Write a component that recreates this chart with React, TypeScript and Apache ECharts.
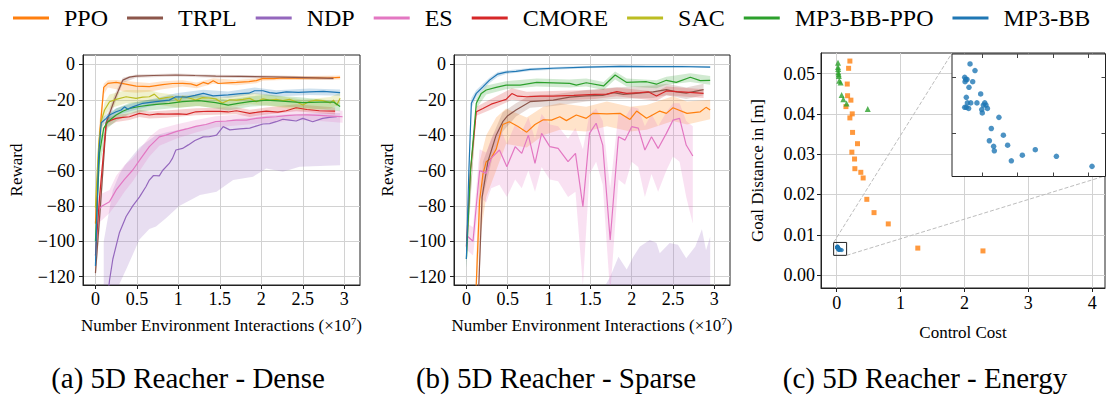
import React, { useEffect, useRef } from 'react';
import * as echarts from 'echarts';

const FONT = '"Liberation Serif", "Times New Roman", Times, serif';

const methods = ['PPO', 'TRPL', 'NDP', 'ES', 'CMORE', 'SAC', 'MP3-BB-PPO', 'MP3-BB'];
const methodColors = ['#ff7f0e', '#8c564b', '#9467bd', '#e377c2', '#d62728', '#bcbd22', '#2ca02c', '#1f77b4'];

const rewardTicks = [-120, -100, -80, -60, -40, -20, 0];
const interactionTicks = [0, 0.5, 1, 1.5, 2, 2.5, 3];
const costTicks = [0, 1, 2, 3, 4];
const distanceTicks = [0, 0.01, 0.02, 0.03, 0.04, 0.05];
const insetCostTicks = [0.02, 0.04, 0.06, 0.08];
const insetDistanceTicks = [0.0065, 0.007];

const captions = ['(a) 5D Reacher - Dense', '(b) 5D Reacher - Sparse', '(c) 5D Reacher - Energy'];

// ---------- Dense: mean curves [x (1e7), reward] ----------
const densePPO = [[0,-90],[0.05,-40],[0.1,-13],[0.15,-10.7],[0.25,-10.2],[0.35,-11],[0.49,-12.3],[0.65,-12.6],[0.81,-11.4],[0.93,-10.8],[1.05,-10.7],[1.15,-11],[1.22,-12],[1.3,-10.2],[1.36,-11],[1.42,-9.2],[1.48,-10.8],[1.6,-10.4],[1.7,-10.2],[1.85,-9.8],[1.94,-9.2],[2.02,-7.9],[2.15,-8],[2.26,-7.6],[2.45,-7.8],[2.6,-7.6],[2.8,-7.7],[2.95,-7.4]];
const denseTRPL = [[0,-118],[0.06,-80],[0.13,-33],[0.23,-20],[0.33,-8.9],[0.41,-7.2],[0.49,-6.6],[0.7,-6.3],[0.97,-6],[1.2,-6.3],[1.45,-6.6],[1.75,-6.8],[2.06,-7],[2.4,-7.3],[2.65,-7.6],[2.87,-7.9]];
const denseNDP = [[0.1,-150],[0.17,-122],[0.21,-110],[0.29,-95],[0.37,-86],[0.45,-80],[0.53,-75],[0.61,-69],[0.65,-65.4],[0.7,-62.8],[0.77,-63],[0.81,-60],[0.89,-56],[0.93,-53],[0.97,-48.4],[1.05,-47.5],[1.12,-45.5],[1.2,-43],[1.3,-41],[1.37,-40.9],[1.46,-40],[1.54,-35.2],[1.62,-37],[1.74,-36.5],[1.86,-36],[2.02,-33.7],[2.1,-33.5],[2.18,-32.4],[2.26,-31],[2.34,-31.5],[2.42,-32],[2.5,-30.5],[2.62,-32.4],[2.74,-30.5],[2.82,-30],[2.91,-29.6]];
const denseES = [[0.02,-83],[0.08,-80],[0.17,-77.6],[0.25,-71],[0.35,-65],[0.45,-59.7],[0.55,-53],[0.65,-46.5],[0.77,-41],[0.85,-40],[0.97,-38],[1.1,-36.5],[1.21,-35],[1.33,-34],[1.45,-32.4],[1.58,-32],[1.7,-31.5],[1.82,-31.5],[1.94,-30.5],[2.06,-30],[2.18,-29.6],[2.3,-29],[2.42,-28.6],[2.55,-28.5],[2.7,-28.8],[2.85,-29.2],[2.98,-29.6]];
const denseCMORE = [[0,-108],[0.05,-75],[0.13,-33],[0.19,-31.5],[0.25,-30.5],[0.33,-30],[0.41,-29.6],[0.53,-27.7],[0.65,-28.6],[0.75,-28],[0.85,-28.1],[1.0,-28],[1.1,-28.3],[1.21,-26.8],[1.35,-26.5],[1.5,-26.6],[1.6,-26.9],[1.7,-26.2],[1.86,-27.7],[1.96,-27],[2.06,-26.4],[2.2,-27],[2.3,-26.2],[2.42,-24.5],[2.55,-25.5],[2.7,-26.2],[2.89,-26.4]];
const denseSAC = [[0,-81],[0.04,-45],[0.07,-32],[0.11,-25.8],[0.17,-21.1],[0.25,-19.8],[0.37,-18.3],[0.49,-19.2],[0.57,-18.5],[0.65,-18.3],[0.71,-16.8],[0.77,-19.5],[0.85,-18.8],[0.93,-18.3],[1.01,-21.1],[1.05,-18],[1.13,-19],[1.21,-20.2],[1.29,-18.8],[1.37,-19],[1.45,-19.5],[1.53,-21.8],[1.62,-20],[1.7,-20.2],[1.78,-19.8],[1.86,-19.2],[1.94,-21.1],[2.02,-19.5],[2.1,-20.2],[2.18,-19.8],[2.26,-20.5],[2.34,-19.8],[2.42,-21.1],[2.5,-23],[2.58,-21],[2.66,-20.2],[2.74,-20.5],[2.83,-21.8],[2.87,-20.2],[2.91,-23],[2.95,-19.2]];
const denseMP3BBPPO = [[0,-100],[0.05,-50],[0.1,-36],[0.15,-32.4],[0.25,-28.6],[0.33,-26.5],[0.41,-24.9],[0.53,-23.8],[0.65,-23],[0.77,-22.5],[0.89,-22],[1.05,-21.1],[1.25,-20.5],[1.45,-21.6],[1.6,-23],[1.72,-22],[1.86,-21.1],[2.06,-20.2],[2.25,-20.8],[2.5,-21.6],[2.7,-21.3],[2.87,-21.3],[2.95,-23.8]];
const denseMP3BB = [[0,-114],[0.04,-50],[0.07,-33],[0.13,-30.5],[0.17,-28.6],[0.25,-26.8],[0.31,-25.8],[0.35,-24],[0.39,-25.4],[0.45,-24],[0.57,-22],[0.73,-21.1],[0.89,-20.2],[0.97,-18.3],[1.1,-18.5],[1.2,-17.5],[1.3,-16.4],[1.42,-17.8],[1.6,-17.2],[1.75,-16.5],[1.85,-16.3],[1.92,-14.9],[2.02,-14.9],[2.1,-16],[2.18,-16.4],[2.3,-15.5],[2.45,-15.8],[2.58,-15.5],[2.75,-15.3],[2.95,-16]];

// ---------- Dense: shaded bands [x, lower, upper] ----------
const denseBandPPO = [[0,-105,-80],[0.05,-50,-32],[0.1,-17,-11],[0.15,-13,-9],[0.25,-14,-8.8],[0.35,-15.5,-9.3],[0.49,-16,-10],[0.65,-15.5,-10.5],[0.81,-14,-9.5],[1.05,-12.5,-9],[1.22,-13.5,-10.3],[1.42,-11,-7.8],[1.7,-11.8,-8.8],[1.94,-10.7,-8],[2.02,-9.3,-6.7],[2.26,-8.8,-6.5],[2.6,-8.8,-6.5],[2.95,-8.5,-6.3]];
const denseBandTRPL = [[0,-122,-114],[0.06,-88,-72],[0.13,-36,-30],[0.23,-23,-17],[0.33,-10.5,-7.5],[0.49,-7.5,-5.7],[0.97,-6.8,-5.2],[1.45,-7.5,-5.8],[2.06,-7.9,-6.2],[2.87,-8.8,-7]];
const denseBandNDP = [[0.1,-160,-100],[0.21,-140,-71],[0.29,-124,-62],[0.37,-116,-56],[0.53,-99,-47],[0.65,-93,-42.8],[0.73,-91.7,-40],[0.85,-87,-38.5],[1.01,-80,-37],[1.26,-73.8,-34.3],[1.46,-72,-33],[1.66,-65.4,-31],[1.9,-63.5,-30],[2.06,-58.8,-29],[2.26,-60.7,-28.5],[2.46,-57.8,-28],[2.7,-57.5,-27.5],[2.95,-57,-27.5]];
const denseBandES = [[0.02,-90,-76],[0.08,-88,-73],[0.17,-84,-71],[0.25,-79,-63],[0.35,-72,-57],[0.45,-66,-53],[0.55,-59,-47],[0.65,-52,-41],[0.77,-46,-36.5],[0.85,-44.5,-35.5],[0.97,-42,-34],[1.21,-38.5,-31.5],[1.45,-35.5,-29.3],[1.7,-34.5,-28.5],[1.94,-33.5,-27.5],[2.18,-32.5,-26.7],[2.42,-31.5,-25.7],[2.7,-32,-25.8],[2.98,-33,-26.2]];
const denseBandCMORE = [[0,-112,-104],[0.05,-80,-70],[0.13,-35.5,-30.5],[0.25,-32.5,-28.5],[0.41,-31.5,-27.7],[0.53,-29.8,-25.6],[0.65,-30.6,-26.6],[0.85,-30.1,-26.1],[1.21,-28.8,-24.8],[1.7,-28.2,-24.2],[1.86,-29.7,-25.7],[2.06,-28.4,-24.4],[2.42,-26.5,-22.5],[2.89,-28.4,-24.4]];
const denseBandSAC = [[0,-90,-72],[0.04,-52,-38],[0.11,-30,-21.5],[0.17,-25,-17],[0.37,-22,-14.5],[0.65,-22,-14.5],[0.77,-23,-16],[1.01,-24.5,-17.5],[1.21,-23.5,-17],[1.53,-25,-18.5],[1.86,-22.5,-16],[2.1,-23.5,-17],[2.5,-26,-20],[2.83,-25,-18.5],[2.95,-22.5,-16]];
const denseBandMP3BBPPO = [[0,-106,-94],[0.05,-57,-43],[0.15,-36,-29],[0.25,-32,-25],[0.41,-28,-21.8],[0.65,-26,-20],[0.89,-25,-19],[1.25,-23.5,-17.5],[1.6,-26,-20],[1.86,-24,-18.2],[2.06,-23.2,-17.2],[2.5,-24.5,-18.7],[2.95,-26.5,-21]];
const denseBandMP3BB = [[0,-118,-110],[0.04,-54,-46],[0.07,-35.5,-30.5],[0.13,-32.5,-28.5],[0.25,-28.8,-24.8],[0.45,-26,-22],[0.73,-23,-19.2],[0.97,-20.3,-16.3],[1.3,-18.4,-14.4],[1.6,-19,-15.4],[1.92,-16.8,-13],[2.18,-18.2,-14.6],[2.58,-17.3,-13.7],[2.95,-17.8,-14.2]];

// ---------- Sparse: mean curves ----------
const sparsePPO = [[0.11,-135],[0.14,-100],[0.16,-77],[0.2,-62],[0.24,-55],[0.3,-53],[0.36,-48],[0.44,-34],[0.52,-32.4],[0.62,-35],[0.73,-38.3],[0.83,-34],[0.93,-31.3],[1.03,-31.5],[1.13,-29.6],[1.21,-31.8],[1.33,-28.6],[1.45,-30.5],[1.53,-27.7],[1.7,-28],[1.86,-27.7],[1.98,-31.1],[2.06,-26.4],[2.18,-30.5],[2.34,-26.4],[2.42,-27.7],[2.5,-24.5],[2.67,-27.7],[2.83,-26.8],[2.9,-24.3],[2.95,-25.8]];
const sparseTRPL = [[0.12,-140],[0.15,-125],[0.19,-75],[0.26,-55],[0.32,-46],[0.36,-40],[0.44,-32.4],[0.5,-29],[0.6,-25.8],[0.77,-21.1],[1.05,-20.2],[1.25,-18.5],[1.45,-17.8],[1.65,-17.5],[1.78,-16],[1.9,-17],[2.02,-16.5],[2.15,-16],[2.26,-15.5],[2.42,-14.3],[2.54,-15.5],[2.66,-16.2],[2.87,-14.3]];
const sparseNDP = [[0.2,-150],[1.0,-146],[1.8,-138],[2.4,-134],[2.95,-132]];
const sparseES = [[0.01,-97],[0.08,-100],[0.16,-60],[0.24,-61.6],[0.3,-53],[0.4,-48.4],[0.49,-57.8],[0.59,-46.5],[0.67,-50.3],[0.75,-40],[0.83,-56],[0.91,-39],[1.01,-46.5],[1.11,-47.5],[1.23,-55],[1.32,-50.3],[1.41,-80.4],[1.49,-39],[1.57,-33.3],[1.65,-45.6],[1.74,-99.3],[1.84,-40.9],[1.92,-42.8],[2.0,-35.2],[2.08,-36],[2.16,-48.4],[2.24,-40.9],[2.32,-47.5],[2.42,-39],[2.5,-31.5],[2.58,-30.5],[2.66,-45.6],[2.74,-51.8]];
const sparseCMORE = [[0,-103],[0.05,-60],[0.12,-26.8],[0.2,-24.9],[0.3,-22.5],[0.4,-21],[0.48,-19.8],[0.55,-16.5],[0.62,-18],[0.73,-18.3],[0.9,-18],[1.05,-17.9],[1.3,-17.5],[1.55,-17],[1.7,-16.8],[1.82,-15.4],[1.94,-16.4],[2.1,-16],[2.2,-15.5],[2.3,-17.9],[2.42,-15],[2.55,-15.4],[2.7,-15.8],[2.87,-16.4]];
const sparseMP3BBPPO = [[0,-110],[0.05,-60],[0.12,-22],[0.18,-16.4],[0.24,-14.5],[0.36,-13],[0.48,-11.7],[0.65,-11.7],[0.85,-10.2],[1.05,-10.4],[1.25,-10.7],[1.33,-11.7],[1.45,-10.4],[1.66,-12.2],[1.8,-6],[1.94,-10.2],[2.18,-9.8],[2.3,-11.2],[2.42,-9],[2.54,-10.2],[2.71,-7.3],[2.83,-9.2],[2.95,-9]];
const sparseMP3BB = [[0,-110],[0.03,-60],[0.06,-22],[0.12,-16.4],[0.2,-12.7],[0.28,-8.9],[0.38,-5.5],[0.48,-4.4],[0.6,-4],[0.77,-2.8],[1.05,-2.2],[1.45,-1.5],[1.86,-1.1],[2.2,-1.3],[2.6,-1.2],[2.95,-1.5]];

// ---------- Sparse: shaded bands ----------
const sparseBandPPO = [[0.12,-130,-110],[0.16,-100,-55],[0.24,-75,-40],[0.36,-60,-30],[0.48,-45,-25],[0.73,-47,-30],[0.93,-40,-24],[1.13,-37,-22],[1.45,-38,-24],[1.7,-35,-21],[1.98,-38,-24],[2.18,-37,-23],[2.5,-32,-18],[2.67,-34,-21],[2.95,-31,-20]];
const sparseBandTRPL = [[0.15,-130,-115],[0.2,-75,-55],[0.32,-52,-40],[0.44,-38,-27],[0.6,-29.5,-22],[0.77,-24.5,-17.5],[1.05,-23.5,-17],[1.45,-21,-14.5],[1.78,-19.5,-13],[2.26,-19,-12],[2.42,-17.5,-11],[2.66,-19.5,-13],[2.87,-17.5,-11]];
const sparseBandNDP = [[1.68,-140,-125],[1.74,-140,-120],[1.84,-140,-108.7],[1.94,-140,-116],[2.02,-140,-108.7],[2.1,-140,-103],[2.22,-140,-99.3],[2.3,-140,-101],[2.34,-140,-106.8],[2.46,-140,-101],[2.56,-140,-102],[2.66,-140,-109.6],[2.77,-140,-103],[2.85,-140,-93.2],[2.9,-140,-105],[2.95,-140,-97.4]];
const sparseBandES = [[0.01,-105,-90],[0.08,-108,-92],[0.16,-75,-48],[0.24,-78,-50],[0.3,-70,-42],[0.4,-68,-35],[0.49,-75,-45],[0.59,-65,-34],[0.67,-70,-38],[0.75,-60,-30],[0.83,-72,-42],[0.91,-58,-28],[1.01,-65,-34],[1.11,-66,-35],[1.23,-75,-42],[1.32,-72,-36],[1.41,-125,-48],[1.49,-62,-28],[1.57,-55,-25],[1.65,-68,-32],[1.74,-130,-70],[1.84,-65,-28],[1.92,-68,-30],[2.0,-55,-24],[2.08,-58,-25],[2.16,-75,-35],[2.24,-62,-28],[2.32,-72,-35],[2.42,-60,-27],[2.5,-52,-22],[2.58,-55,-22],[2.66,-75,-32],[2.74,-90,-35]];
const sparseBandCMORE = [[0,-108,-98],[0.12,-29,-24],[0.3,-25.5,-19.5],[0.55,-20,-13.5],[0.73,-21,-15.5],[1.05,-20.5,-15],[1.55,-19.5,-14.5],[1.82,-18,-13],[2.3,-20.5,-15.5],[2.42,-17.5,-12.5],[2.87,-19,-14]];
const sparseBandMP3BBPPO = [[0,-115,-105],[0.12,-25,-19],[0.24,-17,-12],[0.48,-14,-9.5],[0.85,-12.5,-8],[1.25,-13,-8.5],[1.45,-12.5,-8],[1.66,-14.5,-10],[1.8,-8.5,-4],[1.94,-12.5,-8],[2.3,-13.5,-9],[2.42,-11.5,-7],[2.71,-10,-5],[2.95,-11.5,-6.5]];
const sparseBandMP3BB = [[0,-115,-105],[0.06,-25,-19],[0.12,-18.5,-14.5],[0.2,-14.5,-11],[0.28,-10.5,-7.5],[0.38,-7,-4.3],[0.48,-5.5,-3.4],[0.77,-3.7,-2],[1.05,-3,-1.5],[1.45,-2.2,-0.9],[1.86,-1.8,-0.5],[2.6,-1.8,-0.6],[2.95,-2.1,-0.9]];

// ---------- Energy: [control cost, goal distance] ----------
const energyPPO = [[0.207,0.0531],[0.187,0.0513],[0.166,0.0474],[0.171,0.0445],[0.223,0.0434],[0.145,0.0418],[0.244,0.04],[0.207,0.039],[0.249,0.0354],[0.326,0.0326],[0.238,0.0305],[0.28,0.0288],[0.285,0.0264],[0.378,0.0255],[0.415,0.0241],[0.472,0.0188],[0.585,0.0155],[0.808,0.0127],[1.27,0.0067],[2.29,0.006]];
const energyMP3BBPPO = [[0.021,0.0527],[0.021,0.0516],[0.024,0.0511],[0.026,0.0503],[0.031,0.0498],[0.034,0.0494],[0.041,0.0482],[0.062,0.0478],[0.078,0.0447],[0.104,0.0436],[0.155,0.0426],[0.487,0.0412]];
const energyMP3BB = [[0.0132,0.00712],[0.016,0.00706],[0.0102,0.007],[0.0108,0.00698],[0.0115,0.00698],[0.0104,0.00696],[0.0147,0.00696],[0.0126,0.00691],[0.0192,0.00685],[0.0111,0.00682],[0.0117,0.00677],[0.0136,0.00677],[0.0171,0.00677],[0.0215,0.00677],[0.0207,0.00675],[0.0222,0.00675],[0.0102,0.00673],[0.0111,0.00673],[0.0124,0.00672],[0.023,0.00672],[0.0198,0.00671],[0.0201,0.00668],[0.0295,0.00664],[0.0252,0.00654],[0.032,0.00648],[0.0241,0.00643],[0.0344,0.00639],[0.0265,0.00638],[0.0269,0.00634],[0.05,0.00635],[0.0427,0.0063],[0.0365,0.00625],[0.0619,0.00629],[0.082,0.0062]];
const zoomBox = [[-0.047, 0.0049], [0.156, 0.0081]];
const insetRangeX = [0.00303, 0.0896];
const insetRangeY = [0.006109, 0.007209];
// main-axis data coordinates of the inset's top-left and bottom-right corners
const insetCornersInMain = [[1.806, 0.0551], [4.2, 0.0246]];

const denseMeans = [densePPO, denseTRPL, denseNDP, denseES, denseCMORE, denseSAC, denseMP3BBPPO, denseMP3BB];
const denseBands = [denseBandPPO, denseBandTRPL, denseBandNDP, denseBandES, denseBandCMORE, denseBandSAC, denseBandMP3BBPPO, denseBandMP3BB];
const sparseMeans = [sparsePPO, sparseTRPL, sparseNDP, sparseES, sparseCMORE, null, sparseMP3BBPPO, sparseMP3BB];
const sparseBands = [sparseBandPPO, sparseBandTRPL, sparseBandNDP, sparseBandES, sparseBandCMORE, null, sparseBandMP3BBPPO, sparseBandMP3BB];

const fmtReward = (v: number) => (v < 0 ? '\u2212' + Math.abs(v) : String(v));
const fmtPlain = (v: number) => String(v);
const fmtDist = (v: number) => v.toFixed(2);

function mainAxis(gridIndex: number, min: number, max: number, ticks: number[], fmt: any, margin: number, name: any, nameGap: number, nameRich?: boolean) {
  const ax: any = {
    type: 'value', gridIndex, min, max,
    axisLine: { show: true, onZero: false, lineStyle: { color: '#222', width: 1 } },
    axisTick: { show: true, customValues: ticks, length: 4, lineStyle: { color: '#222', width: 1 } },
    axisLabel: { show: true, customValues: ticks, formatter: fmt, color: '#000', fontSize: 18, fontFamily: FONT, margin },
    splitLine: { show: true, lineStyle: { color: '#d2d2d2', width: 1 } },
    name, nameLocation: 'middle', nameGap,
    nameTextStyle: { color: '#000', fontSize: 17, fontFamily: FONT },
  };
  if (nameRich) {
    ax.nameTextStyle.rich = {
      a: { color: '#000', fontSize: 17, fontFamily: FONT, lineHeight: 20 },
      s: { color: '#000', fontSize: 11, fontFamily: FONT, lineHeight: 12, verticalAlign: 'top' },
    };
  }
  return ax;
}

function insetAxis(position: string, min: number, max: number, ticks: number[]) {
  return {
    type: 'value', gridIndex: 3, position, min, max, z: 11,
    axisLine: { show: false },
    axisTick: { show: true, inside: true, length: 4, customValues: ticks, lineStyle: { color: '#444', width: 1 } },
    axisLabel: { show: false },
    splitLine: { show: false },
  };
}

function bandSeries(bands: any[], idx: number) {
  const items = bands.map((b, i) => ({ b, c: methodColors[i] })).filter((o) => o.b);
  return {
    type: 'custom', name: 'bands' + idx, xAxisIndex: idx, yAxisIndex: idx, silent: true, z: 1,
    data: items.map(() => [1, -60]),
    renderItem: (params: any, api: any) => {
      const it = items[params.dataIndex];
      const upper = it.b.map((p: number[]) => api.coord([p[0], p[2]]));
      const lower = it.b.slice().reverse().map((p: number[]) => api.coord([p[0], p[1]]));
      const cs = params.coordSys;
      return {
        type: 'polygon',
        shape: { points: upper.concat(lower) },
        style: { fill: it.c, opacity: 0.22 },
        clipPath: { type: 'rect', shape: { x: cs.x, y: cs.y, width: cs.width, height: cs.height } },
      };
    },
  };
}

function lineSeries(means: any[], idx: number) {
  const out: any[] = [];
  means.forEach((m, i) => {
    if (!m) return;
    out.push({
      type: 'line', name: methods[i], xAxisIndex: idx, yAxisIndex: idx, data: m,
      showSymbol: false, symbol: 'none', silent: true, clip: true, z: 3,
      color: methodColors[i],
      lineStyle: { width: 1.2, color: methodColors[i] },
      itemStyle: { color: methodColors[i] },
    });
  });
  return out;
}

function buildOption() {
  const gridBox = { show: true, borderColor: '#222', borderWidth: 1, backgroundColor: 'transparent' };
  return {
    animation: false,
    textStyle: { fontFamily: FONT },
    legend: {
      data: methods,
      left: 8, top: 1,
      icon: 'rect', itemWidth: 36, itemHeight: 3, itemGap: 19,
      selectedMode: false,
      textStyle: { color: '#000', fontSize: 24, fontFamily: FONT, padding: [0, 0, 0, 10] },
    },
    grid: [
      { left: 83, top: 55, width: 277, height: 230, ...gridBox },
      { left: 454, top: 55, width: 276, height: 230, ...gridBox },
      { left: 821, top: 53, width: 284, height: 235, ...gridBox },
      { left: 952, top: 54, width: 153.5, height: 122.5, show: true, backgroundColor: '#fff', borderColor: '#222', borderWidth: 1, z: 10 },
    ],
    xAxis: [
      mainAxis(0, -0.15, 3.19, interactionTicks, fmtPlain, 5, '{a|Number Environment Interactions (\u00d710}{s|7}{a|)}', 30, true),
      mainAxis(1, -0.15, 3.19, interactionTicks, fmtPlain, 5, '{a|Number Environment Interactions (\u00d710}{s|7}{a|)}', 30, true),
      mainAxis(2, -0.245, 4.2, costTicks, fmtPlain, 6, 'Control Cost', 36),
      insetAxis('bottom', insetRangeX[0], insetRangeX[1], insetCostTicks),
      insetAxis('top', insetRangeX[0], insetRangeX[1], insetCostTicks),
    ],
    yAxis: [
      mainAxis(0, -124.7, 5.3, rewardTicks, fmtReward, 8, 'Reward', 58),
      mainAxis(1, -124.7, 5.3, rewardTicks, fmtReward, 8, 'Reward', 58),
      mainAxis(2, -0.0032, 0.0551, distanceTicks, fmtDist, 6, 'Goal Distance in [m]', 55),
      insetAxis('left', insetRangeY[0], insetRangeY[1], insetDistanceTicks),
      insetAxis('right', insetRangeY[0], insetRangeY[1], insetDistanceTicks),
    ],
    series: [
      bandSeries(denseBands, 0),
      ...lineSeries(denseMeans, 0),
      bandSeries(sparseBands, 1),
      ...lineSeries(sparseMeans, 1),
      {
        type: 'scatter', name: 'PPO', xAxisIndex: 2, yAxisIndex: 2, data: energyPPO,
        symbol: 'rect', symbolSize: 5, itemStyle: { color: methodColors[0] }, z: 3, silent: true,
      },
      {
        type: 'scatter', name: 'MP3-BB-PPO', xAxisIndex: 2, yAxisIndex: 2, data: energyMP3BBPPO,
        symbol: 'triangle', symbolSize: 6, itemStyle: { color: methodColors[6] }, z: 3, silent: true,
      },
      {
        type: 'scatter', name: 'MP3-BB', xAxisIndex: 2, yAxisIndex: 2, data: energyMP3BB,
        symbol: 'circle', symbolSize: 4, itemStyle: { color: methodColors[7] }, z: 3, silent: true,
        markArea: {
          silent: true,
          itemStyle: { color: 'rgba(0,0,0,0)', borderColor: '#222', borderWidth: 1 },
          data: [[{ coord: zoomBox[0] }, { coord: zoomBox[1] }]],
        },
        markLine: {
          silent: true, symbol: ['none', 'none'], label: { show: false },
          lineStyle: { type: 'dashed', color: '#bdbdbd', width: 1 },
          data: [
            [{ coord: [zoomBox[0][0], zoomBox[1][1]] }, { coord: insetCornersInMain[0] }],
            [{ coord: [zoomBox[1][0], zoomBox[0][1]] }, { coord: insetCornersInMain[1] }],
          ],
        },
      },
      {
        type: 'scatter', name: 'MP3-BB', xAxisIndex: 3, yAxisIndex: 3, data: energyMP3BB,
        symbol: 'circle', symbolSize: 5.5, itemStyle: { color: methodColors[7] }, z: 12, silent: true,
      },
    ],
    graphic: {
      elements: captions.map((t, i) => ({
        type: 'text', x: [188, 556, 925][i], y: 378, silent: true,
        style: { text: t, fontSize: 29, fontFamily: FONT, fill: '#000', align: 'center', verticalAlign: 'middle', textAlign: 'center', textVerticalAlign: 'middle' },
      })),
    },
  };
}

export default function App() {
  const ref = useRef<HTMLDivElement>(null);
  useEffect(() => {
    const chart = echarts.init(ref.current as HTMLDivElement, undefined, { renderer: 'svg' });
    chart.setOption(buildOption() as any);
    return () => chart.dispose();
  }, []);
  return <div ref={ref} style={{ position: 'absolute', left: 0, top: 0, width: 1106, height: 396, background: '#fff' }} />;
}
